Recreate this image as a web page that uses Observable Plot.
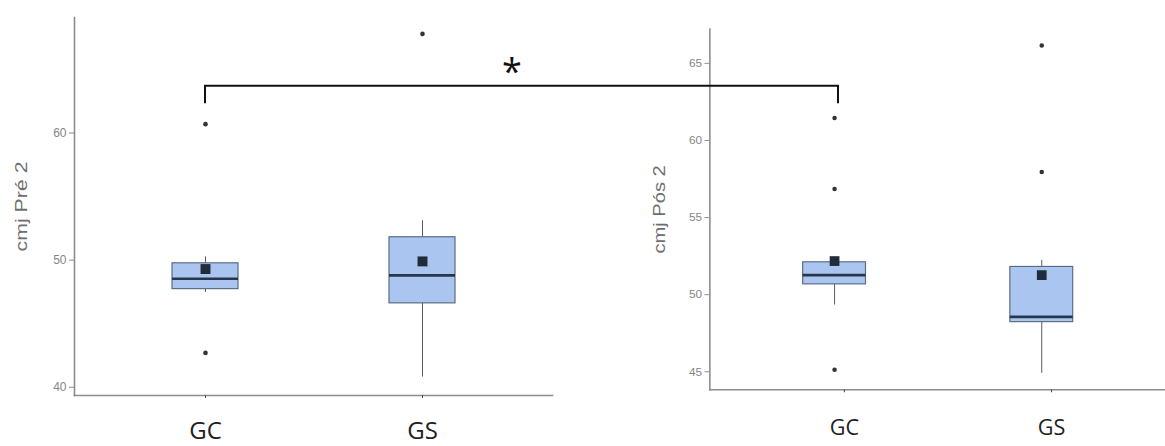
<!DOCTYPE html>
<html>
<head>
<meta charset="utf-8">
<script src="https://cdn.jsdelivr.net/npm/d3@7"></script>
<script src="https://cdn.jsdelivr.net/npm/@observablehq/plot@0.6"></script>
<style>
  body { margin: 0; background: white; }
  #wrap { position: relative; width: 1165px; height: 446px; overflow: hidden; background: white; }
  #wrap > div, #wrap > svg { position: absolute; top: 0; }
</style>
</head>
<body>
<div id="wrap"></div>
<script>
// ---------- data ----------
const groups = ["GC", "GS"];

// cmj Pré 2
const preLabel = "cmj Pré 2";
const preTicks = [40, 50, 60];
const preLow    = [47.45, 40.8];
const preQ1     = [47.72, 46.6];
const preMedian = [48.53, 48.8];
const preQ3     = [49.75, 51.8];
const preHigh   = [50.25, 53.1];
const preMean   = [49.3, 49.9];
const preOutGroup = ["GC", "GC", "GS"];
const preOutValue = [60.7, 42.7, 67.8];

// cmj Pós 2
const posLabel = "cmj Pós 2";
const posTicks = [45, 50, 55, 60, 65];
const posLow    = [49.33, 44.9];
const posQ1     = [50.67, 48.22];
const posMedian = [51.27, 48.56];
const posQ3     = [52.1, 51.8];
const posHigh   = [52.3, 52.23];
const posMean   = [52.18, 51.27];
const posOutGroup = ["GC", "GC", "GC", "GS", "GS"];
const posOutValue = [61.45, 56.85, 45.14, 66.16, 57.95];

// significance bracket (in cmj Pré 2 units) between GC (Pré) and GC (Pós)
const bracketLevel = 63.69;
const bracketFoot = 62.3;
const bracketText = "*";

// ---------- styles ----------
const boxFill = "#aac6f0", boxStroke = "#5b6c84", medColor = "#27364a",
      meanColor = "#212c3b", outColor = "#333333", whiskColor = "#5a5a5a",
      axisColor = "#8c8c8c", tickText = "#858585", labelColor = "#6e6e6e";

function panel(o) {
  const stats = groups.map((g, i) => ({
    group: g, low: o.low[i], q1: o.q1[i], median: o.median[i],
    q3: o.q3[i], high: o.high[i], mean: o.mean[i]
  }));
  const outs = o.outGroup.map((g, i) => ({group: g, value: o.outValue[i]}));
  return Plot.plot({
    width: o.width, height: 446,
    marginLeft: o.marginLeft, marginRight: o.marginRight,
    marginTop: o.marginTop, marginBottom: o.marginBottom,
    style: {fontFamily: "'Liberation Sans', Arial, sans-serif", fontSize: "12px",
            color: tickText, background: "white", overflow: "visible"},
    x: {domain: groups, paddingInner: 0.697, paddingOuter: 0.445, label: null},
    y: {domain: o.domain, label: null},
    marks: [
      Plot.frame({anchor: "left", stroke: axisColor, strokeWidth: 1.6}),
      Plot.frame({anchor: "bottom", stroke: axisColor, strokeWidth: 1.6}),
      Plot.axisY({ticks: o.ticks, tickSize: 5, tickPadding: 3, stroke: axisColor,
                  fill: tickText, fontSize: 12, label: null}),
      Plot.axisX({tickSize: 3, tickPadding: o.xPad, stroke: "#444",
                  fill: "#1e1e1e", fontSize: o.xFont, fontFamily: "'Open Sans', sans-serif",
                  dx: o.xDx, label: null}),
      Plot.text([o.label], {frameAnchor: "left", dx: -o.labelGap, rotate: -90,
                fontSize: 17, fill: labelColor, textAnchor: "middle", lineAnchor: "middle"}),
      Plot.ruleX(stats, {x: "group", y1: "low", y2: "high", stroke: whiskColor, strokeWidth: 1}),
      Plot.barY(stats, {x: "group", y1: "q1", y2: "q3", fill: boxFill, stroke: boxStroke, strokeWidth: 1.2}),
      Plot.tickY(stats, {x: "group", y: "median", stroke: medColor, strokeWidth: 2.6}),
      Plot.dot(stats, {x: "group", y: "mean", symbol: "square", r: 5.6, fill: meanColor, stroke: "none"}),
      Plot.dot(outs, {x: "group", y: "value", r: 2.3, fill: outColor, stroke: "none"})
    ]
  });
}

const wrap = document.getElementById("wrap");

const left = panel({
  width: 560, marginLeft: 74, marginRight: 8, marginTop: 17, marginBottom: 51,
  domain: [39.35, 69.09], ticks: preTicks,
  low: preLow, q1: preQ1, median: preMedian, q3: preQ3, high: preHigh, mean: preMean,
  outGroup: preOutGroup, outValue: preOutValue, label: preLabel, labelGap: 53,
  xPad: 23, xFont: 24, xDx: 0
});
const right = panel({
  width: 555, marginLeft: 91, marginRight: 0, marginTop: 29, marginBottom: 49.5,
  domain: [43.83, 67.23], ticks: posTicks,
  low: posLow, q1: posQ1, median: posMedian, q3: posQ3, high: posHigh, mean: posMean,
  outGroup: posOutGroup, outValue: posOutValue, label: posLabel, labelGap: 51,
  xPad: 27, xFont: 22, xDx: 10
});

const leftDiv = document.createElement("div"); leftDiv.style.left = "0px"; leftDiv.appendChild(left);
const rightDiv = document.createElement("div"); rightDiv.style.left = "620px"; rightDiv.appendChild(right);
wrap.appendChild(leftDiv); wrap.appendChild(rightDiv);

// stretch y labels along their direction, as in the reference
for (const [svg, lab] of [[left, preLabel], [right, posLabel]]) {
  svg.querySelectorAll("text").forEach(t => {
    if (t.textContent === lab) {
      t.setAttribute("textLength", 90);
      t.setAttribute("lengthAdjust", "spacingAndGlyphs");
    }
  });
}

// ---------- bracket overlay, positioned with the plots' own scales ----------
const xL = left.scale("x"), yL = left.scale("y"), xR = right.scale("x");
const x1 = xL.apply("GC") + xL.bandwidth / 2;
const x2 = 620 + xR.apply("GC") + xR.bandwidth / 2;
const yTop = yL.apply(bracketLevel), yFoot = yL.apply(bracketFoot);

const overlay = d3.create("svg").attr("width", 1165).attr("height", 446)
  .style("left", "0px").style("pointer-events", "none");
overlay.append("path")
  .attr("d", `M${x1},${yFoot}V${yTop}H${x2}V${yFoot}`)
  .attr("fill", "none").attr("stroke", "#111").attr("stroke-width", 2);
overlay.append("text")
  .attr("x", x1 + (x2 - x1) * 0.485)
  .attr("y", yTop - 2)
  .attr("text-anchor", "middle")
  .attr("font-family", "'Open Sans', sans-serif")
  .attr("font-size", 36)
  .attr("fill", "#111")
  .text(bracketText);
wrap.appendChild(overlay.node());
</script>
</body>
</html>
